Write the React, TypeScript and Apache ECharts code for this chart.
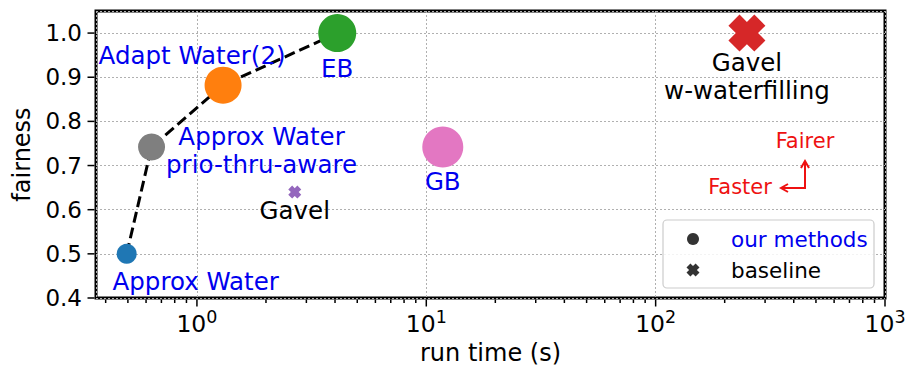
import React, { useEffect, useRef } from 'react';
import * as echarts from 'echarts';

// ---- data ----
const methodNames = ['Approx Water', 'Approx Water\nprio-thru-aware', 'Adapt Water(2)', 'EB', 'GB'];
const methodRunTime = [0.494, 0.634, 1.3, 4.09, 11.8];
const methodFairness = [0.5, 0.742, 0.882, 1.0, 0.742];
const frontierCount = 4; // first four methods are joined by the dashed line

const baselineNames = ['Gavel', 'Gavel\nw-waterfilling'];
const baselineRunTime = [2.67, 250];
const baselineFairness = [0.64, 1.0];

const yTickValues = [0.4, 0.5, 0.6, 0.7, 0.8, 0.9, 1.0];
const xMajorTicks = [1, 10, 100, 1000];
const xMinorTicks = [
  0.4, 0.5, 0.6, 0.7, 0.8, 0.9,
  2, 3, 4, 5, 6, 7, 8, 9,
  20, 30, 40, 50, 60, 70, 80, 90,
  200, 300, 400, 500, 600, 700, 800, 900,
];
const xMin = 0.363;
const xMax = 1000;
const yMin = 0.4;
const yMax = 1.05;

// ---- styles ----
const FONT = 'DejaVu Sans';
const methodColors = ['#1f77b4', '#7f7f7f', '#ff7f0e', '#2ca02c', '#e377c2'];
const methodSizes = [20, 27, 37, 38, 41];
const methodLabelOffsets = [[69, 28], [110, 4], [-31, -30], [0, 35], [0, 35]];
const baselineColors = ['#9467bd', '#d62728'];
const baselineSizes = [13, 37];
const baselineLabelOffsets = [[0, 18], [0, 43]];
const X_PATH = 'path://M3,0L5,2L7,0L10,3L8,5L10,7L7,10L5,8L3,10L0,7L2,5L0,3Z';
const LABEL_SIZE = 24.5;

export default function App() {
  const ref = useRef<HTMLDivElement>(null);

  useEffect(() => {
    if (!ref.current) return;
    const chart = echarts.init(ref.current, undefined, { renderer: 'svg' });

    const mkLabel = (text: string, offset: number[], color: string) => ({
      show: true,
      formatter: text,
      position: 'inside',
      offset,
      color,
      opacity: 1,
      fontFamily: FONT,
      fontSize: LABEL_SIZE,
      lineHeight: 28,
      align: 'center',
    });

    const methodData = methodNames.map((n, i) => ({
      name: n,
      value: [methodRunTime[i], methodFairness[i]],
      symbolSize: methodSizes[i],
      itemStyle: { color: methodColors[i], opacity: 1 },
      label: mkLabel(n, methodLabelOffsets[i], '#0000ee'),
    }));

    const baselineData = baselineNames.map((n, i) => ({
      name: n,
      value: [baselineRunTime[i], baselineFairness[i]],
      symbolSize: baselineSizes[i],
      itemStyle: { color: baselineColors[i], opacity: 1 },
      label: mkLabel(n, baselineLabelOffsets[i], '#000000'),
    }));

    const frontier = methodRunTime
      .slice(0, frontierCount)
      .map((x, i) => [x, methodFairness[i]]);

    const xTickData = [
      ...xMajorTicks.map((v) => [v, yMin, 7]),
      ...xMinorTicks.map((v) => [v, yMin, 3.5]),
    ];
    const yTickData = yTickValues.map((v) => [xMin, v, 7]);

    // legend "baseline" marker (fat X) around its centre
    const lx = 693, ly = 270, h = 6.5;
    const xPoly = [
      [-0.4, -1], [0, -0.6], [0.4, -1], [1, -0.4], [0.6, 0], [1, 0.4],
      [0.4, 1], [0, 0.6], [-0.4, 1], [-1, 0.4], [-0.6, 0], [-1, -0.4],
    ].map(([a, b]) => [lx + a * h, ly + b * h]);

    const option: any = {
      animation: false,
      backgroundColor: '#fff',
      grid: {
        left: 96,
        right: 22,
        top: 11,
        bottom: 68,
        show: true,
        borderColor: '#000',
        borderWidth: 3,
        backgroundColor: 'transparent',
        outerBoundsMode: 'none',
        containLabel: false,
      },
      xAxis: {
        type: 'log',
        logBase: 10,
        min: xMin,
        max: xMax,
        name: 'run time (s)',
        nameLocation: 'middle',
        nameGap: 40,
        nameTextStyle: { fontFamily: FONT, fontSize: 24, color: '#000' },
        axisLine: { show: false },
        axisTick: { show: false },
        splitLine: {
          show: true,
          lineStyle: { color: '#b0b0b0', type: [2, 2], width: 1 },
        },
        axisLabel: {
          margin: 10,
          color: '#000',
          fontFamily: FONT,
          formatter: (v: number) => {
            const l = Math.log10(v);
            const e = Math.round(l);
            if (Math.abs(l - e) > 1e-6) return '';
            return `{b|10}{s|${e}}`;
          },
          rich: {
            b: { fontSize: 23.5, fontFamily: FONT, color: '#000', lineHeight: 28, verticalAlign: 'bottom' },
            s: { fontSize: 17.5, fontFamily: FONT, color: '#000', lineHeight: 17, verticalAlign: 'top' },
          },
        },
      },
      yAxis: {
        type: 'value',
        min: yMin,
        max: yMax,
        interval: 0.1,
        name: 'fairness',
        nameLocation: 'middle',
        nameGap: 62,
        nameTextStyle: { fontFamily: FONT, fontSize: 24, color: '#000' },
        axisLine: { show: false },
        axisTick: { show: false },
        splitLine: {
          show: true,
          lineStyle: { color: '#b0b0b0', type: [2, 2], width: 1 },
        },
        axisLabel: {
          margin: 14,
          color: '#000',
          fontFamily: FONT,
          fontSize: 23,
          formatter: (v: number) =>
            Math.abs(v * 10 - Math.round(v * 10)) < 1e-6 ? v.toFixed(1) : '',
        },
      },
      series: [
        {
          type: 'line',
          data: frontier,
          symbol: 'none',
          silent: true,
          z: 2,
          lineStyle: { color: '#000', width: 3, type: [11, 5] },
        },
        {
          type: 'scatter',
          name: 'our methods',
          data: methodData,
          symbol: 'circle',
          itemStyle: { opacity: 1 },
          z: 3,
        },
        {
          type: 'scatter',
          name: 'baseline',
          data: baselineData,
          symbol: X_PATH,
          itemStyle: { opacity: 1 },
          z: 3,
        },
        {
          type: 'custom',
          silent: true,
          z: 10,
          data: xTickData,
          encode: { x: 0, y: 1 },
          renderItem: (_p: any, api: any) => {
            const pt = api.coord([api.value(0), api.value(1)]);
            const len = api.value(2);
            return {
              type: 'line',
              shape: { x1: pt[0], y1: pt[1] + 1.5, x2: pt[0], y2: pt[1] + 1.5 + len },
              style: { stroke: '#000', lineWidth: 1.5 },
            };
          },
        },
        {
          type: 'custom',
          silent: true,
          z: 10,
          data: yTickData,
          encode: { x: 0, y: 1 },
          renderItem: (_p: any, api: any) => {
            const pt = api.coord([api.value(0), api.value(1)]);
            const len = api.value(2);
            return {
              type: 'line',
              shape: { x1: pt[0] - 1.5 - len, y1: pt[1], x2: pt[0] - 1.5, y2: pt[1] },
              style: { stroke: '#000', lineWidth: 1.5 },
            };
          },
        },
      ],
      graphic: [
        // direction hint
        {
          type: 'text',
          z: 100,
          style: { x: 805, y: 141, text: 'Fairer', fill: '#ee1111', font: `21px "${FONT}"`, align: 'center', verticalAlign: 'middle' },
        },
        {
          type: 'text',
          z: 100,
          style: { x: 740, y: 187, text: 'Faster', fill: '#ee1111', font: `21px "${FONT}"`, align: 'center', verticalAlign: 'middle' },
        },
        {
          type: 'polyline',
          z: 100,
          shape: { points: [[781, 188], [805, 188], [805, 161]] },
          style: { stroke: '#ee1111', lineWidth: 2, fill: 'none' },
        },
        {
          type: 'polyline',
          z: 100,
          shape: { points: [[788, 184], [781, 188], [788, 192]] },
          style: { stroke: '#ee1111', lineWidth: 2, fill: 'none' },
        },
        {
          type: 'polyline',
          z: 100,
          shape: { points: [[801, 168], [805, 161], [809, 168]] },
          style: { stroke: '#ee1111', lineWidth: 2, fill: 'none' },
        },
        // legend
        {
          type: 'rect',
          z: 100,
          shape: { x: 663, y: 220, width: 211, height: 68, r: 4 },
          style: { fill: 'rgba(255,255,255,0.85)', stroke: '#cccccc', lineWidth: 1.2 },
        },
        {
          type: 'circle',
          z: 101,
          shape: { cx: 693, cy: 239, r: 6 },
          style: { fill: '#333333' },
        },
        {
          type: 'polygon',
          z: 101,
          shape: { points: xPoly },
          style: { fill: '#333333' },
        },
        {
          type: 'text',
          z: 101,
          style: { x: 731, y: 239, text: 'our methods', fill: '#0000ee', font: `21.5px "${FONT}"`, verticalAlign: 'middle' },
        },
        {
          type: 'text',
          z: 101,
          style: { x: 731, y: 270, text: 'baseline', fill: '#000', font: `21.5px "${FONT}"`, verticalAlign: 'middle' },
        },
      ],
    };

    chart.setOption(option);
    return () => chart.dispose();
  }, []);

  return (
    <div
      ref={ref}
      style={{ position: 'fixed', left: 0, top: 0, width: 907, height: 366, background: '#fff' }}
    />
  );
}
